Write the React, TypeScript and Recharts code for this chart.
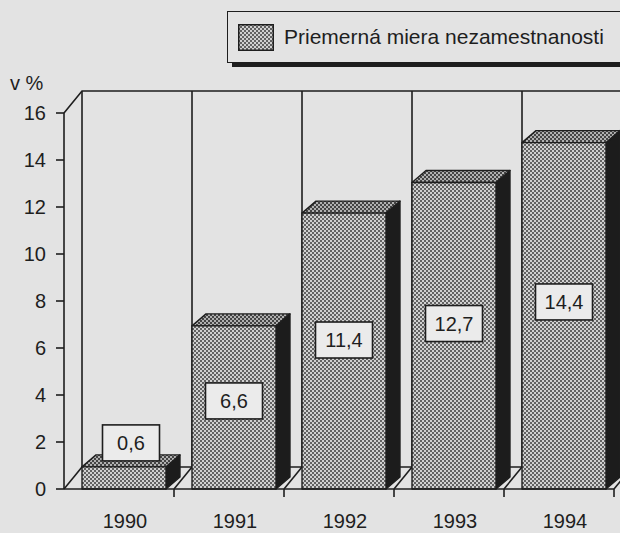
import React from 'react';
import { BarChart, Bar, XAxis, YAxis, Legend, LabelList, Customized } from 'recharts';

const years = ['1990', '1991', '1992', '1993', '1994'];
const rates = [0.6, 6.6, 11.4, 12.7, 14.4];
const yTicks = [0, 2, 4, 6, 8, 10, 12, 14, 16];
const seriesName = 'Priemerná miera nezamestnanosti';
const unitLabel = 'v %';

const data = years.map((year, i) => ({ year, rate: rates[i] }));

const W = 620;
const H = 533;
// front plot frame
const PL = 64;
const PR = 614;
const PT = 113;
const PB = 489;
// wall depth and bar depth
const DX = 18;
const DY = 22;
const BDX = 14;
const BDY = 12;
const BAND = (PR - PL) / years.length;
const SHIFT = 5;

const INK = '#1e1e1e';
const BG = '#e3e3e3';
const FONT = '"Liberation Sans", Arial, Helvetica, sans-serif';

const Patterns = ({ prefix }: { prefix: string }) => (
  <defs>
    <pattern id={`${prefix}dots`} width={4} height={4} patternUnits="userSpaceOnUse">
      <rect width={4} height={4} fill="#d0d0d0" />
      <rect width={2} height={2} fill="#626262" />
      <rect x={2} y={2} width={2} height={2} fill="#626262" />
    </pattern>
    <pattern id={`${prefix}dotsDark`} width={4} height={4} patternUnits="userSpaceOnUse">
      <rect width={4} height={4} fill="#b0b0b0" />
      <rect width={2} height={2} fill="#444" />
      <rect x={2} y={2} width={2} height={2} fill="#444" />
    </pattern>
  </defs>
);

// back wall, side wall and floor of the 3D box
const Walls = () => {
  const backL = PL + DX;
  const backT = PT - DY;
  const backB = PB - DY;
  const dividers = years.map((_, i) => {
    const fx = PL + BAND * (i + 1);
    return (
      <g key={i}>
        <line x1={fx} y1={PB} x2={fx + DX} y2={backB} />
        <line x1={fx + DX} y1={backB} x2={fx + DX} y2={backT} />
      </g>
    );
  });
  return (
    <g>
      <Patterns prefix="c-" />
      <g stroke={INK} strokeWidth={1.6} fill="none">
        <polyline points={`${PL},${PT} ${backL},${backT} ${W},${backT}`} />
        <line x1={backL} y1={backT} x2={backL} y2={backB} />
        <line x1={PL} y1={PB} x2={backL} y2={backB} />
        <line x1={backL} y1={backB} x2={W} y2={backB} />
        {dividers}
      </g>
      <text x={10} y={90} fontSize={20} fontFamily={FONT} fill={INK}>
        {unitLabel}
      </text>
    </g>
  );
};

const Box3D = (props: any) => {
  const { x, y, width, height } = props;
  const left = x + SHIFT;
  const right = left + width;
  const top = y - 8;
  const bottom = y + height;
  return (
    <g stroke={INK} strokeWidth={1.4} strokeLinejoin="round">
      <polygon
        points={`${right},${top} ${right + BDX},${top - BDY} ${right + BDX},${bottom - BDY} ${right},${bottom}`}
        fill="#1c1c1c"
      />
      <polygon
        points={`${left},${top} ${left + BDX},${top - BDY} ${right + BDX},${top - BDY} ${right},${top}`}
        fill="url(#c-dotsDark)"
      />
      <rect x={left} y={top} width={width} height={bottom - top} fill="url(#c-dots)" />
    </g>
  );
};

const ValueBox = (props: any) => {
  const vb = props.viewBox ?? props;
  const x = props.x ?? vb.x;
  const y = props.y ?? vb.y;
  const width = props.width ?? vb.width;
  const height = props.height ?? vb.height;
  const { value } = props;
  const top = y - 8;
  const bottom = y + height;
  const bw = 57;
  const bh = 36;
  const tall = bottom - top > 80;
  const cx = x + SHIFT + width / 2 + (tall ? 0 : BDX / 2);
  const cy = tall ? top + (bottom - top) * 0.46 : top - BDY - bh / 2 + 6;
  return (
    <g>
      <rect x={cx - bw / 2} y={cy - bh / 2} width={bw} height={bh} fill="#ebebeb" stroke={INK} strokeWidth={1.6} />
      <text x={cx} y={cy} dy="0.36em" textAnchor="middle" fontSize={20} fontFamily={FONT} fill={INK}>
        {String(value).replace('.', ',')}
      </text>
    </g>
  );
};

const YearTick = (props: any) => {
  const { x, payload } = props;
  const edge = x + BAND / 2;
  return (
    <g>
      <line x1={edge} y1={PB} x2={edge} y2={PB + 8} stroke={INK} strokeWidth={1.6} />
      <text x={x + SHIFT + 1} y={528} textAnchor="middle" fontSize={20} fontFamily={FONT} fill={INK}>
        {payload.value}
      </text>
    </g>
  );
};

const LegendBox = () => (
  <div
    style={{
      width: 430,
      height: 52,
      boxSizing: 'border-box',
      border: `1.5px solid ${INK}`,
      boxShadow: `5px 4px 0 ${INK}`,
      display: 'flex',
      alignItems: 'center',
      fontFamily: FONT,
      fontSize: 21,
      color: INK,
    }}
  >
    <svg width={36} height={27} style={{ marginLeft: 10, marginRight: 10, flex: 'none' }}>
      <Patterns prefix="l-" />
      <rect x={0.75} y={0.75} width={34.5} height={25.5} fill="url(#l-dots)" stroke={INK} strokeWidth={1.5} />
    </svg>
    <span style={{ whiteSpace: 'nowrap' }}>{seriesName}</span>
  </div>
);

export default function App() {
  return (
    <div style={{ width: W, height: H, overflow: 'hidden', position: 'relative', background: BG }}>
      <style>{'body{margin:0;overflow:hidden}'}</style>
      <BarChart width={W} height={H} data={data} margin={{ top: PT, right: W - PR, bottom: 0, left: 0 }}>
        <Customized component={<Walls />} />
        <XAxis
          dataKey="year"
          height={H - PB}
          axisLine={{ stroke: INK, strokeWidth: 1.6 }}
          tickLine={false}
          tick={<YearTick />}
          interval={0}
        />
        <YAxis
          width={PL}
          domain={[0, 16]}
          ticks={yTicks}
          interval={0}
          tickSize={8}
          tickMargin={10}
          axisLine={{ stroke: INK, strokeWidth: 1.6 }}
          tickLine={{ stroke: INK, strokeWidth: 1.6 }}
          tick={{ fill: INK, fontSize: 20, fontFamily: FONT }}
        />
        <Legend
          layout="horizontal"
          verticalAlign="middle"
          align="center"
          content={<LegendBox />}
          wrapperStyle={{ top: 11, left: 227, width: 440 }}
        />
        <Bar dataKey="rate" name={seriesName} barSize={84} shape={<Box3D />} isAnimationActive={false}>
          <LabelList dataKey="rate" content={<ValueBox />} />
        </Bar>
      </BarChart>
    </div>
  );
}
